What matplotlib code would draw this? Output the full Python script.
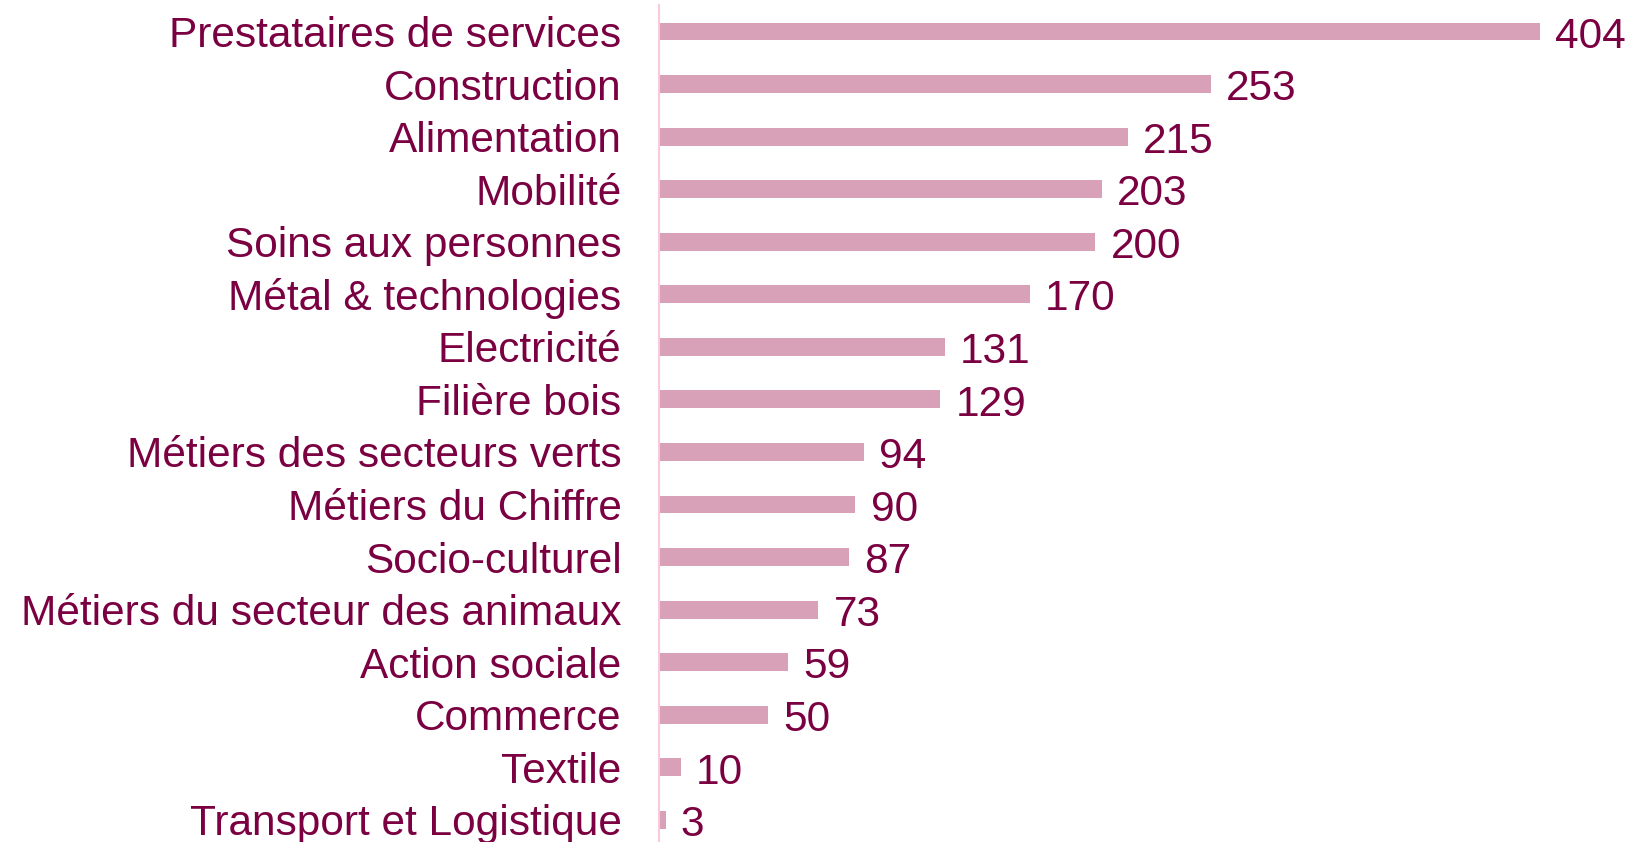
import matplotlib
matplotlib.use("Agg")
import matplotlib.pyplot as plt

CATEGORIES = ["Prestataires de services", "Construction", "Alimentation", "Mobilité",
              "Soins aux personnes", "Métal & technologies", "Electricité", "Filière bois",
              "Métiers des secteurs verts", "Métiers du Chiffre", "Socio-culturel",
              "Métiers du secteur des animaux", "Action sociale", "Commerce", "Textile",
              "Transport et Logistique"]
VALUES = [404, 253, 215, 203, 200, 170, 131, 129, 94, 90, 87, 73, 59, 50, 10, 3]

TEXT_COLOR = "#7B0041"
BAR_COLOR = "#D8A1B8"
AXIS_COLOR = "#F9C9DC"

W, H, DPI = 1633, 842, 100
plt.rcParams["font.family"] = ["Liberation Sans", "DejaVu Sans"]
FS = 30.5

fig = plt.figure(figsize=(W / DPI, H / DPI), dpi=DPI)
left = 659 / W
ax = fig.add_axes([left, 0, 1 - left, 837 / H])

px_per_unit = 881 / 404
ax.set_xlim(0, (W - 659) / px_per_unit)
ax.set_ylim(15 + 0.42, -0.504)

ypos = list(range(len(CATEGORIES)))
ax.barh(ypos, VALUES, height=0.34, color=BAR_COLOR)

for y, v in zip(ypos, VALUES):
    ax.annotate(str(v), (v, y), xytext=(11, -0.5), textcoords="offset points",
                va="center_baseline", ha="left", fontsize=FS, color=TEXT_COLOR)

ax.set_yticks(ypos)
ax.set_yticklabels(CATEGORIES, fontsize=FS, color=TEXT_COLOR)
ax.tick_params(axis="y", length=0, pad=27)
ax.set_xticks([])

for s in ["top", "right", "bottom"]:
    ax.spines[s].set_visible(False)
ax.spines["left"].set_color(AXIS_COLOR)
ax.spines["left"].set_linewidth(1.5)

fig.savefig("out.png", dpi=DPI)
